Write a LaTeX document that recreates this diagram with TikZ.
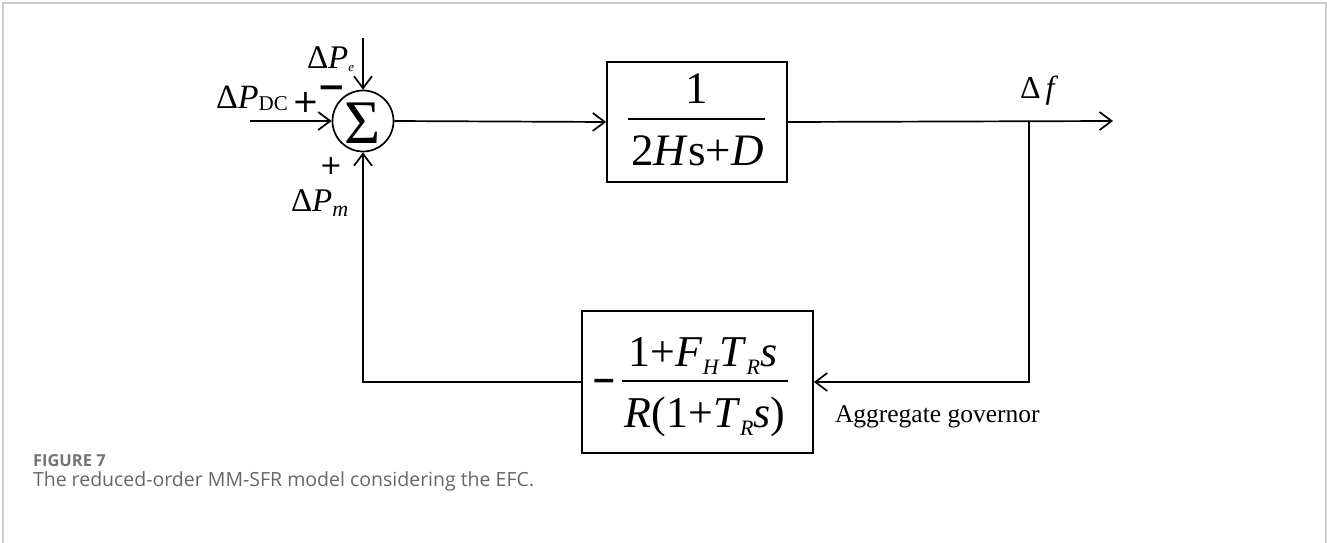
\documentclass[tikz,border=0pt]{standalone}
\usepackage{fontspec}
\setmainfont{Liberation Serif}
\newfontfamily\capfont{Open Sans}
\newfontfamily\symfont{DejaVu Sans}
\usetikzlibrary{arrows.meta}
\newcommand{\fs}[1]{\fontsize{#1}{#1}\selectfont}
\newcommand{\lsub}[3]{\raisebox{-#2}{\fs{#1}#3}}
\tikzset{
  lbl/.style={inner sep=0pt, outer sep=0pt},
  blockbox/.style={draw, line width=1.7pt, inner sep=0pt},
  wire/.style={line width=1.7pt},
  conn/.style={line width=1.7pt, -{Straight Barb[length=12pt,width=18pt,line width=1.7pt]}},
  framecol/.style={draw=black!20, line width=2pt},
}
\begin{document}
\begin{tikzpicture}[x=1pt,y=-1pt]
\useasboundingbox (0,0) rectangle (1327,543);
\draw[framecol] (3,543) -- (3,3) -- (1326,3) -- (1326,543);

% summing junction
\node[circle, draw, line width=1.7pt, minimum size=61pt, inner sep=0pt] (sum) at (363,121) {};
\node[lbl] (sigma) at (363,123) {\fs{62}Σ};

% forward block
\node[blockbox, minimum width=180pt, minimum height=120pt] (b1) at (697,122) {};
\node[lbl, anchor=base] (b1num) at (697,103) {\fs{45}1};
\node[lbl, anchor=base] (b1den) at (697.5,165) {\fs{45}2\textit{H}s+\textit{D}};
\draw[wire] (628,119) -- (765,119);

% feedback block
\node[blockbox, minimum width=231pt, minimum height=142pt] (b2) at (697.5,382) {};
\node[lbl, anchor=base] (b2minus) at (604,390) {\symfont\bfseries\fs{30}−};
\node[lbl, anchor=base] (b2num) at (703,366) {\fs{44}1+\textit{F}\lsub{22}{8pt}{\textit{H}}\textit{T}\lsub{22}{8pt}{\textit{R}}\textit{s}};
\node[lbl, anchor=base] (b2den) at (705,427) {\fs{44}\textit{R}(1+\textit{T}\lsub{22}{8pt}{\textit{R}}\textit{s})};
\draw[wire] (622,381) -- (788,381);

% coordinates for free ends
\coordinate (in1) at (250,121);
\coordinate (in2) at (363,38);
\coordinate (out) at (1113,121);
\coordinate (branch) at (1029,121);

% connectors
\draw[conn] (in1) -- (sum.west);
\draw[conn] (in2) -- (sum.north);
\draw[conn] (sum.east) -- (b1.west);
\draw[conn] (b1.east) -- (out);
\draw[conn] (branch) |- (b2.east);
\draw[conn] (b2.west) -| (sum.south);

% labels
\node[lbl, anchor=base west] (pdc) at (216,108) {\fs{34}Δ\textit{P}\lsub{21}{2pt}{DC}};
\node[lbl] (plus1) at (306,102) {\symfont\fs{32}+};
\node[lbl, anchor=base west] (pe) at (307,68) {\fs{33}Δ\textit{P}\lsub{13}{3pt}{\textit{e}}};
\node[lbl, anchor=base] (minus1) at (332,98) {\symfont\bfseries\fs{34}−};
\node[lbl] (plus2) at (331,166) {\symfont\fs{27}+};
\node[lbl, anchor=base west] (pm) at (291,211) {\fs{33}Δ\textit{P}\lsub{22}{5pt}{\textit{m}}};
\node[lbl, anchor=base west] (df) at (1020,98) {\fs{32}Δ\hspace{5pt}\textit{f}};
\node[lbl, anchor=base west] (gov) at (835,422) {\fs{25.5}Aggregate governor};

% caption
\node[lbl, anchor=base west, text=black!55] (fig) at (33,466) {\capfont\bfseries\fs{16.5}FIGURE 7};
\node[lbl, anchor=base west, text=black!60] (cap) at (33,486) {\capfont\fs{19.5}The reduced-order MM-SFR model considering the EFC.};
\end{tikzpicture}
\end{document}
